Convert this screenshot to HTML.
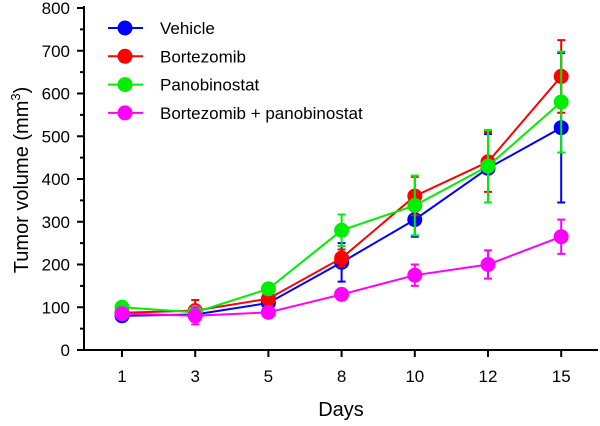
<!DOCTYPE html>
<html><head><meta charset="utf-8"><style>
body{margin:0;background:#fff;font-family:"Liberation Sans",Arial,sans-serif;}
svg text{font-family:"Liberation Sans",Arial,sans-serif;}
</style></head><body>
<svg id="chart" width="600" height="421" viewBox="0 0 600 421" xmlns="http://www.w3.org/2000/svg"></svg>
<script>
const categories=["1","3","5","8","10","12","15"];
const yTicks=[0,100,200,300,400,500,600,700,800];
const seriesNames=["Vehicle","Bortezomib","Panobinostat","Bortezomib + panobinostat"];
const seriesColors=["#0000ff","#ff0000","#00ee00","#ff00ff"];
const vehicle=[80,83,110,205,305,425,520];
const vehicleErr=[12,10,10,45,40,80,175];
const bortezomib=[87,92,120,215,360,440,640];
const bortezomibErr=[10,25,15,20,45,70,85];
const panobinostat=[100,88,143,280,338,430,580];
const panobinostatErr=[8,8,10,37,70,85,118];
const combo=[85,80,88,130,175,200,265];
const comboErr=[8,20,8,8,25,33,40];
const values=[vehicle,bortezomib,panobinostat,combo];
const errs=[vehicleErr,bortezomibErr,panobinostatErr,comboErr];

const NS="http://www.w3.org/2000/svg";
const svg=document.getElementById('chart');
const y0=350,yTop=8,x0=84,xEnd=598;
const yS=v=>y0-(v/800)*(y0-yTop);
const xS=i=>122+i*73.2;
function mk(tag,a){const e=document.createElementNS(NS,tag);for(const k in a)e.setAttribute(k,a[k]);svg.appendChild(e);return e;}

let ax=mk('line',{x1:x0,y1:yTop-2,x2:x0,y2:y0,stroke:'#000','stroke-width':2});


let bx=mk('line',{x1:x0,y1:y0,x2:xEnd,y2:y0,stroke:'#000','stroke-width':2});


yTicks.forEach((v,i)=>{
  const y=yS(v);
  const t=mk('line',{x1:x0-7,y1:y,x2:x0,y2:y,stroke:'#000','stroke-width':2});
  
  
  if(i<yTicks.length-1){const m=mk('line',{x1:x0-4,y1:yS(v+50),x2:x0,y2:yS(v+50),stroke:'#000','stroke-width':2});
    
    }
  const l=mk('text',{x:x0-14,y:y+6,'text-anchor':'end','font-size':17});l.textContent=v;
  
  
});
categories.forEach((c,i)=>{
  const x=xS(i);
  const t=mk('line',{x1:x,y1:y0,x2:x,y2:y0+7,stroke:'#000','stroke-width':2});
  
  
  const l=mk('text',{x:x,y:y0+32,'text-anchor':'middle','font-size':17});l.textContent=c;
  
  
});
let xt=mk('text',{x:341,y:416,'text-anchor':'middle','font-size':20});xt.textContent='Days';


let yt=mk('text',{x:0,y:0,'text-anchor':'middle','font-size':20,transform:'translate(28,180) rotate(-90)'});
yt.innerHTML='Tumor volume (mm<tspan font-size="13" dy="-8">3</tspan><tspan dy="8">)</tspan>';



values.forEach((vals,s)=>{
  const col=seriesColors[s];
  const g=document.createElementNS(NS,'g');svg.appendChild(g);
  
  
  const add=(tag,a)=>{const e=document.createElementNS(NS,tag);for(const k in a)e.setAttribute(k,a[k]);g.appendChild(e);return e;};
  const pl=add('polyline',{points:vals.map((v,i)=>xS(i)+','+yS(v)).join(' '),fill:'none',stroke:col,'stroke-width':2});
  
  
  vals.forEach((v,i)=>{
    const x=xS(i),e=errs[s][i];
    const eb=add('path',{d:`M${x},${yS(v-e)}V${yS(v+e)}M${x-4},${yS(v-e)}H${x+4}M${x-4},${yS(v+e)}H${x+4}`,stroke:col,'stroke-width':2,fill:'none'});
    
    
    const c=add('circle',{cx:x,cy:yS(v),r:7.5,fill:col});
    
    
  });
});
seriesNames.forEach((n,s)=>{
  const y=28+s*28.3;
  const g=document.createElementNS(NS,'g');svg.appendChild(g);
  
  
  const add=(tag,a)=>{const e=document.createElementNS(NS,tag);for(const k in a)e.setAttribute(k,a[k]);g.appendChild(e);return e;};
  add('line',{x1:108,y1:y,x2:143,y2:y,stroke:seriesColors[s],'stroke-width':2});
  add('circle',{cx:125,cy:y,r:7.5,fill:seriesColors[s]});
  const t=add('text',{x:160,y:y+6,'font-size':17});t.textContent=n;
});
</script>
</body></html>
